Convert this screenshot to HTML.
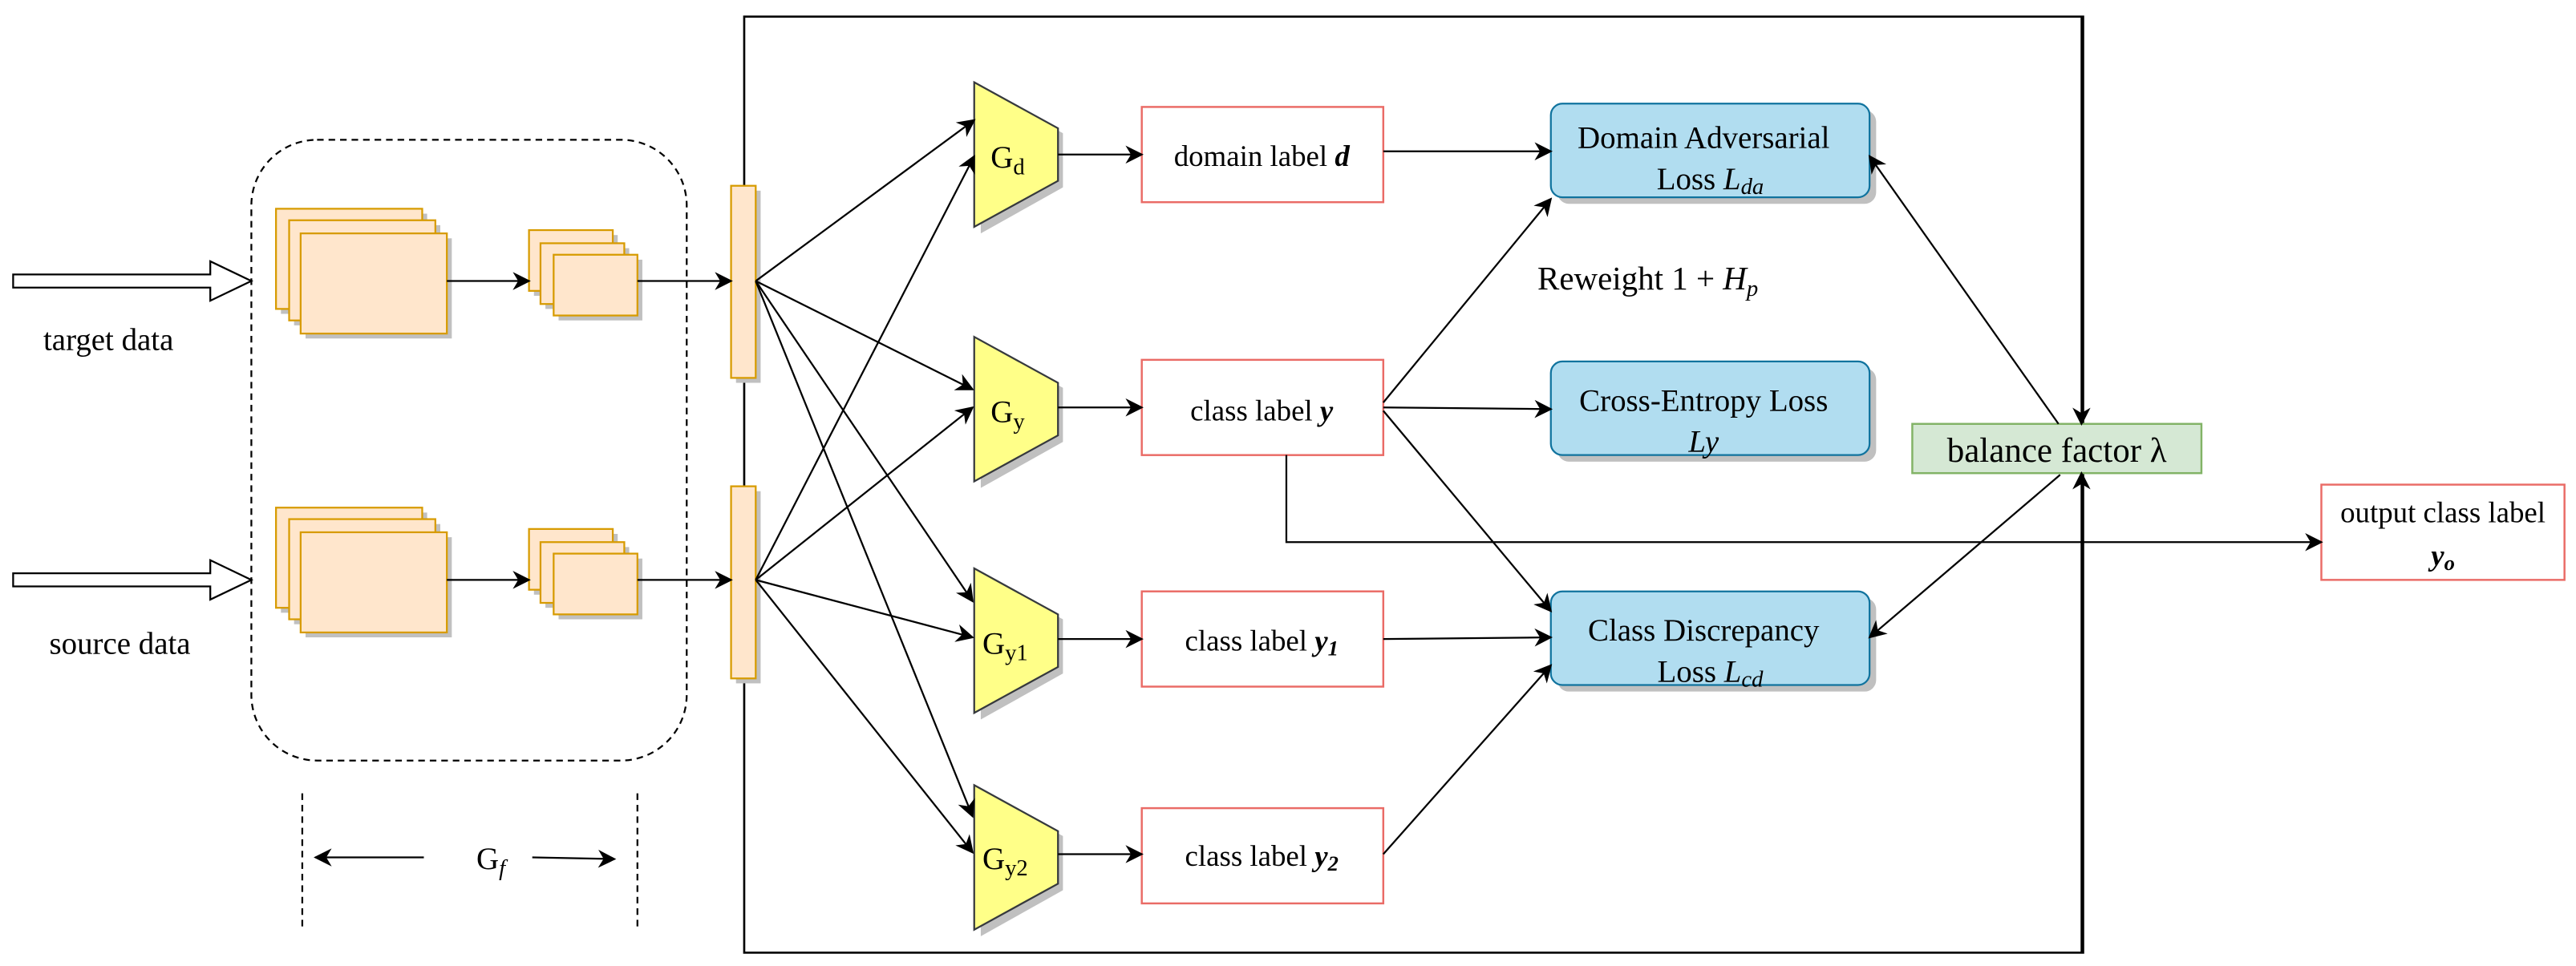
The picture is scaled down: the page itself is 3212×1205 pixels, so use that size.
<!DOCTYPE html>
<html><head><meta charset="utf-8"><style>html,body{margin:0;padding:0;background:#fff;font-family:"Liberation Serif","Times New Roman",Times,"DejaVu Serif",serif}svg{display:block}svg text,svg tspan{font-family:"Liberation Serif","Times New Roman",Times,"DejaVu Serif",serif}</style></head>
<body>
<svg width="3212" height="1205" viewBox="0 0 1568 588" xmlns="http://www.w3.org/2000/svg" font-family="Liberation Serif, Times New Roman, serif">
<defs>
<marker id="a" viewBox="0 0 10 10" refX="9" refY="5" markerWidth="11" markerHeight="11" markerUnits="userSpaceOnUse" orient="auto"><path d="M0,0 L10,5 L0,10 L3,5 Z" fill="#000"/></marker>
</defs>
<g fill="none" stroke="#000" stroke-width="1.1">
<rect x="453" y="10" width="815" height="570" stroke-width="1.3"/>
<rect x="153" y="85" width="265" height="378" rx="40" stroke-dasharray="4,3"/>
<line x1="184" y1="483" x2="184" y2="566" stroke-dasharray="4,3"/>
<line x1="388" y1="483" x2="388" y2="566" stroke-dasharray="4,3"/>
</g>
<path d="M8,167 L128,167 L128,159 L153,171 L128,183 L128,175 L8,175 Z" fill="#fff" stroke="#000" stroke-width="1.1"/>
<path d="M8,349 L128,349 L128,341 L153,353 L128,365 L128,357 L8,357 Z" fill="#fff" stroke="#000" stroke-width="1.1"/>
<text x="66" y="213" font-size="19" text-anchor="middle">target data</text>
<text x="73" y="398" font-size="19" text-anchor="middle">source data</text>
<g stroke="#d79b00" stroke-width="1.1" fill="#ffe6cc">
<g id="st">
<rect x="171" y="130" width="89" height="61" fill="#c0c0c0" stroke="none"/>
<rect x="168" y="127" width="89" height="61"/>
<rect x="179" y="137" width="89" height="61" fill="#c0c0c0" stroke="none"/>
<rect x="176" y="134" width="89" height="61"/>
<rect x="186" y="145" width="89" height="61" fill="#c0c0c0" stroke="none"/>
<rect x="183" y="142" width="89" height="61"/>
<rect x="325" y="143" width="51" height="37" fill="#c0c0c0" stroke="none"/>
<rect x="322" y="140" width="51" height="37"/>
<rect x="332" y="151" width="51" height="37" fill="#c0c0c0" stroke="none"/>
<rect x="329" y="148" width="51" height="37"/>
<rect x="340" y="158" width="51" height="37" fill="#c0c0c0" stroke="none"/>
<rect x="337" y="155" width="51" height="37"/>
</g>
<use href="#st" y="182"/>
<rect x="448" y="116" width="15" height="117" fill="#c0c0c0" stroke="none"/>
<rect x="445" y="113" width="15" height="117"/>
<rect x="448" y="299" width="15" height="117" fill="#c0c0c0" stroke="none"/>
<rect x="445" y="296" width="15" height="117"/>
</g>
<g stroke="#36393d" stroke-width="1.1" fill="#ffff88">
<g id="tr">
<path d="M597,54 L647,81 L647,114 L597,142 Z" fill="#c0c0c0" stroke="none"/>
<path d="M593,50 L644,78 L644,110 L593,138 Z"/>
</g>
<use href="#tr" y="155"/>
<use href="#tr" y="296"/>
<use href="#tr" y="428"/>
</g>
<g font-size="19">
<text x="603" y="102">G<tspan font-size="14" dy="4">d</tspan></text>
<text x="603" y="257">G<tspan font-size="14" dy="4">y</tspan></text>
<text x="598" y="398">G<tspan font-size="14" dy="4">y1</tspan></text>
<text x="598" y="529">G<tspan font-size="14" dy="4">y2</tspan></text>
</g>
<g stroke="#ea6b66" stroke-width="1.2" fill="#fff">
<rect x="695" y="65" width="147" height="58"/>
<rect x="695" y="219" width="147" height="58"/>
<rect x="695" y="360" width="147" height="58"/>
<rect x="695" y="492" width="147" height="58"/>
<rect x="1413" y="295" width="148" height="58"/>
</g>
<g font-size="18" text-anchor="middle">
<text x="768" y="101">domain label <tspan font-weight="bold" font-style="italic">d</tspan></text>
<text x="768" y="256">class label <tspan font-weight="bold" font-style="italic">y</tspan></text>
<text x="768" y="396">class label <tspan font-weight="bold" font-style="italic">y<tspan font-size="13" dy="3">1</tspan></tspan></text>
<text x="768" y="527">class label <tspan font-weight="bold" font-style="italic">y<tspan font-size="13" dy="3">2</tspan></tspan></text>
<text x="1487" y="318">output class label</text>
<text x="1487" y="344" font-weight="bold" font-style="italic">y<tspan font-size="13" dy="3">o</tspan></text>
</g>
<g stroke="#10739e" stroke-width="1.1" fill="#b1ddf0">
<rect x="948" y="67" width="194" height="57" rx="7" fill="#c0c0c0" stroke="none"/>
<rect x="944" y="63" width="194" height="57" rx="7"/>
<rect x="948" y="224" width="194" height="57" rx="7" fill="#c0c0c0" stroke="none"/>
<rect x="944" y="220" width="194" height="57" rx="7"/>
<rect x="948" y="364" width="194" height="57" rx="7" fill="#c0c0c0" stroke="none"/>
<rect x="944" y="360" width="194" height="57" rx="7"/>
</g>
<g font-size="19" text-anchor="middle">
<text x="1037" y="90">Domain Adversarial</text>
<text x="1041" y="115">Loss  <tspan font-style="italic">L<tspan font-size="14" dy="3">da</tspan></tspan></text>
<text x="1037" y="250">Cross-Entropy Loss</text>
<text x="1037" y="275" font-style="italic">Ly</text>
<text x="1037" y="390">Class Discrepancy</text>
<text x="1041" y="415">Loss  <tspan font-style="italic">L<tspan font-size="14" dy="3">cd</tspan></tspan></text>
<text x="1003" y="176" font-size="20">Reweight 1 + <tspan font-style="italic">H<tspan font-size="14" dy="4">p</tspan></tspan></text>
</g>
<rect x="1164" y="258" width="176" height="30" fill="#d5e8d4" stroke="#82b366" stroke-width="1.2"/>
<text x="1252" y="281" font-size="21" text-anchor="middle">balance factor  λ</text>
<text x="290" y="529" font-size="19">G<tspan font-size="14" font-style="italic" dy="4">f</tspan></text>
<g stroke="#000" stroke-width="1.1" fill="none" marker-end="url(#a)">
<line x1="272" y1="171" x2="322" y2="171"/>
<line x1="388" y1="171" x2="445" y2="171"/>
<line x1="272" y1="353" x2="322" y2="353"/>
<line x1="388" y1="353" x2="445" y2="353"/>
<line x1="258" y1="522" x2="192" y2="522"/>
<line x1="324" y1="522" x2="374" y2="523"/>
<line x1="460" y1="171" x2="593" y2="73"/>
<line x1="460" y1="171" x2="592" y2="237"/>
<line x1="460" y1="171" x2="592" y2="366"/>
<line x1="460" y1="171" x2="592" y2="497"/>
<line x1="460" y1="353" x2="593" y2="95"/>
<line x1="460" y1="353" x2="592" y2="248"/>
<line x1="460" y1="353" x2="592" y2="388"/>
<line x1="460" y1="353" x2="592" y2="519"/>
<line x1="644" y1="94" x2="695" y2="94"/>
<line x1="644" y1="248" x2="695" y2="248"/>
<line x1="644" y1="389" x2="695" y2="389"/>
<line x1="644" y1="520" x2="695" y2="520"/>
<line x1="842" y1="92" x2="944" y2="92"/>
<line x1="842" y1="245" x2="944" y2="121"/>
<line x1="842" y1="248" x2="944" y2="249"/>
<line x1="842" y1="250" x2="944" y2="372"/>
<line x1="842" y1="389" x2="944" y2="388"/>
<line x1="842" y1="520" x2="944" y2="405"/>
<polyline points="783,277 783,330 1413,330"/>
<line x1="1253" y1="258" x2="1138" y2="95"/>
<line x1="1254" y1="289" x2="1138" y2="388"/>
<line x1="1267" y1="10" x2="1267" y2="258"/>
<line x1="1267" y1="580" x2="1267" y2="288"/>
</g>
</svg>
</body></html>
